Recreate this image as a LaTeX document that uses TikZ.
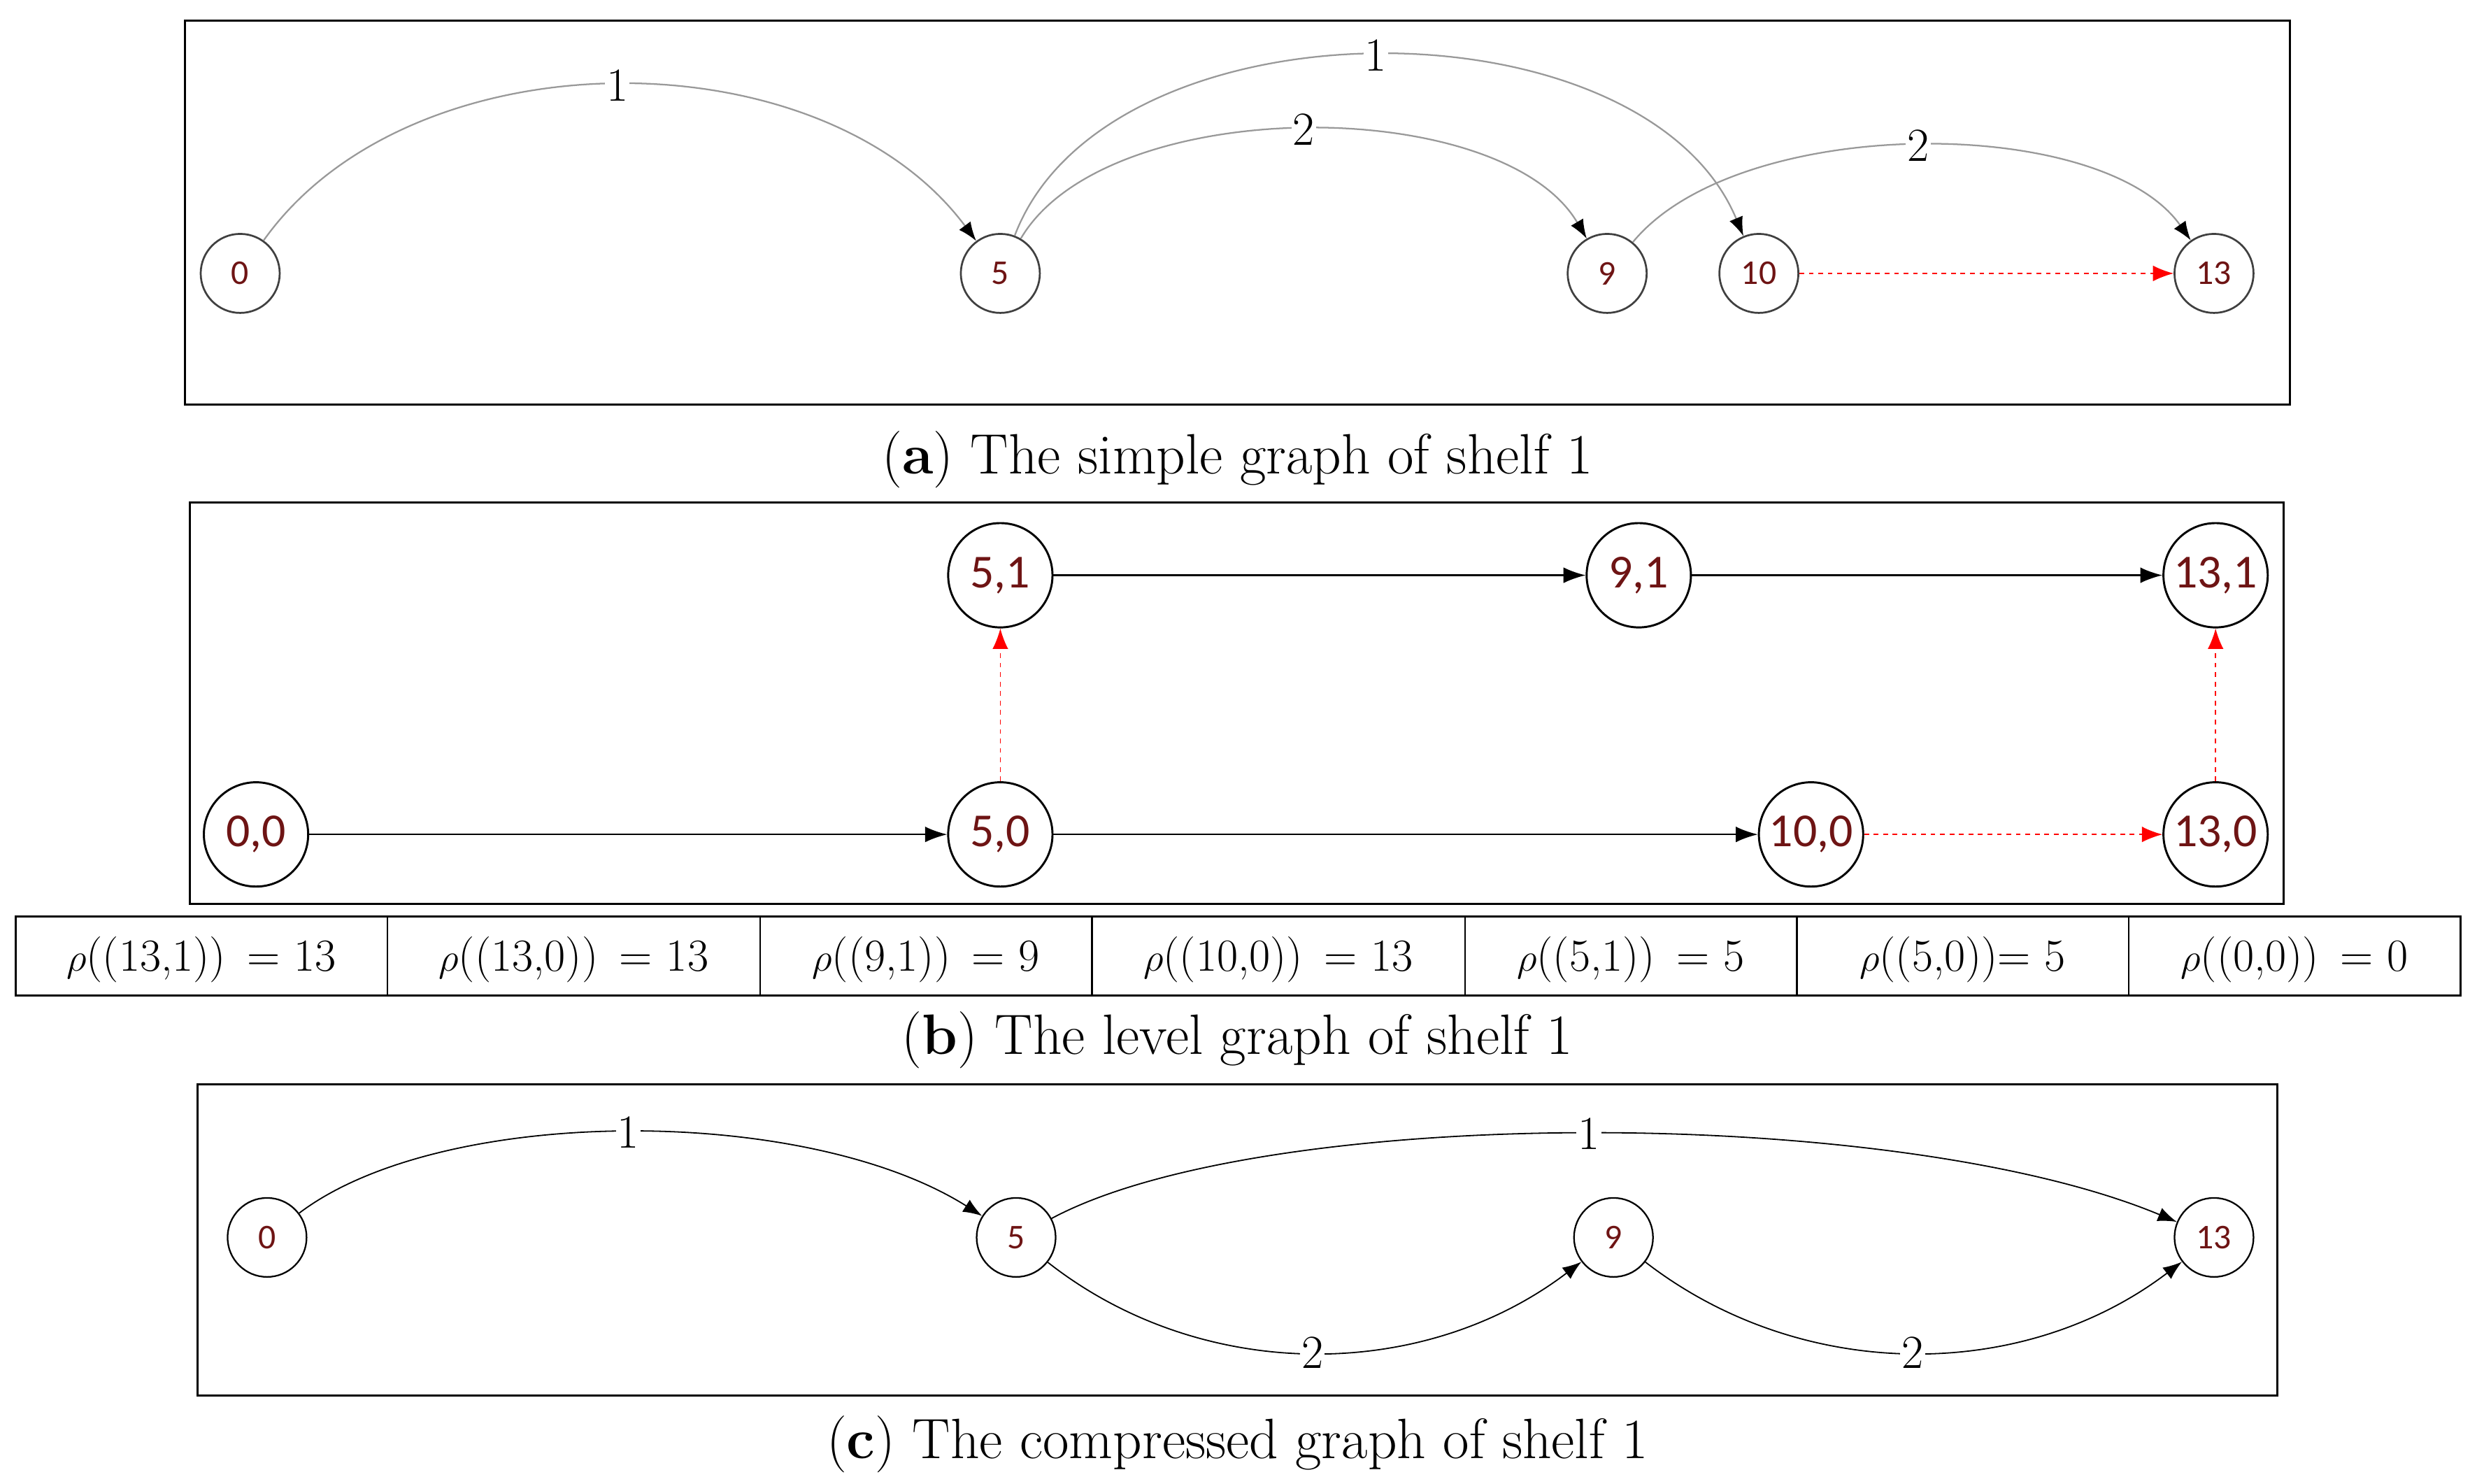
\documentclass[tikz,border=0pt]{standalone}
\usepackage{fontspec}
\newfontfamily\nodefont{Carlito}
\usetikzlibrary{arrows.meta}
\definecolor{nred}{RGB}{110,20,20}
\tikzset{
  frame/.style={draw=black,line width=1.3pt},
  sn/.style={circle,draw=black!75,line width=1.2pt,minimum size=50pt,inner sep=0pt,font=\nodefont\fontsize{22}{24}\selectfont,text=nred},
  bn/.style={circle,draw=black,line width=1.3pt,minimum size=66pt,inner sep=0pt,font=\nodefont\fontsize{30}{32}\selectfont,text=nred},
  cn/.style={circle,draw=black,line width=1pt,minimum size=50pt,inner sep=0pt,font=\nodefont\fontsize{22}{24}\selectfont,text=nred},
  ga/.style={draw=black!40,line width=1pt,-{Latex[length=12pt,width=9pt,color=black]}},
  ka/.style={draw=black,line width=1pt,-{Latex[length=14pt,width=10pt]}},
  ra/.style={draw=red,dashed,line width=0.8pt,-{Latex[length=13pt,width=10pt]}},
  el/.style={fill=white,inner sep=1pt,font=\fontsize{30}{32}\selectfont},
  captext/.style={font=\fontsize{36}{40}\selectfont},
  cell/.style={font=\fontsize{29}{32}\selectfont}
}
\begin{document}
\begin{tikzpicture}[x=1pt,y=-1pt]
\useasboundingbox (0,0) rectangle (1563,939);
% panel a
\draw[frame] (117,13) rectangle (1449,256);
\node[sn] (a0) at (152,173) {0};
\node[sn] (a5) at (633,173) {5};
\node[sn] (a9) at (1017,173) {9};
\node[sn] (a10) at (1113,173) {10};
\node[sn] (a13) at (1401,173) {13};
\draw[ga] (a0) .. controls (260,21) and (520,21) .. node[el]{1} (a5);
\draw[ga] (a5) .. controls (700,-3) and (1040,-3) .. node[el]{1} (a10);
\draw[ga] (a5) .. controls (700,59) and (950,59) .. node[el]{2} (a9);
\draw[ga] (a9) .. controls (1100,72) and (1330,72) .. node[el]{2} (a13);
\draw[ra] (a10) -- (a13);
\node[captext] (capa) at (783,291) {(\textbf{a}) The simple graph of shelf 1};
% panel b
\draw[frame] (120,318) rectangle (1445,572);
\node[bn] (b51) at (633,364) {5,1};
\node[bn] (b91) at (1037,364) {9,1};
\node[bn] (b131) at (1402,364) {13,1};
\node[bn] (b00) at (162,528) {0,0};
\node[bn] (b50) at (633,528) {5,0};
\node[bn] (b100) at (1146,528) {10,0};
\node[bn] (b130) at (1402,528) {13,0};
\draw[ka] (b51) -- (b91);
\draw[ka] (b91) -- (b131);
\draw[ka] (b00) -- (b50);
\draw[ka] (b50) -- (b100);
\draw[ra] (b100) -- (b130);
\draw[ra] (b50) -- (b51);
\draw[ra] (b130) -- (b131);
% table
\draw[frame] (10,580) rectangle (1557,630);
\foreach \x in {245,481,691,927,1137,1347} \draw[line width=1pt] (\x,580) -- (\x,630);
\node[cell] (t1) at (127.5,607) {$\rho$((13,1))\, = 13};
\node[cell] (t2) at (363,607) {$\rho$((13,0))\, = 13};
\node[cell] (t3) at (586,607) {$\rho$((9,1))\, = 9};
\node[cell] (t4) at (809,607) {$\rho$((10,0))\, = 13};
\node[cell] (t5) at (1032,607) {$\rho$((5,1))\, = 5};
\node[cell] (t6) at (1242,607) {$\rho$((5,0))= 5};
\node[cell] (t7) at (1452,607) {$\rho$((0,0))\, = 0};
\node[captext] (capb) at (783,658) {(\textbf{b}) The level graph of shelf 1};
% panel c
\draw[frame] (125,686) rectangle (1441,883);
\node[cn] (c0) at (169,783) {0};
\node[cn] (c5) at (643,783) {5};
\node[cn] (c9) at (1021,783) {9};
\node[cn] (c13) at (1401,783) {13};
\draw[ka,line width=0.8pt,-{Latex[length=12pt,width=9pt]}] (c0) .. controls (280,699) and (510,699) .. node[el]{1} (c5);
\draw[ka,line width=0.8pt,-{Latex[length=12pt,width=9pt]}] (c5) .. controls (800,699) and (1200,699) .. node[el]{1} (c13);
\draw[ka,line width=0.8pt,-{Latex[length=12pt,width=9pt]}] (c5) .. controls (760,875) and (900,875) .. node[el]{2} (c9);
\draw[ka,line width=0.8pt,-{Latex[length=12pt,width=9pt]}] (c9) .. controls (1140,875) and (1280,875) .. node[el]{2} (c13);
\node[captext] (capc) at (783,914) {(\textbf{c}) The compressed graph of shelf 1};
\end{tikzpicture}
\end{document}
